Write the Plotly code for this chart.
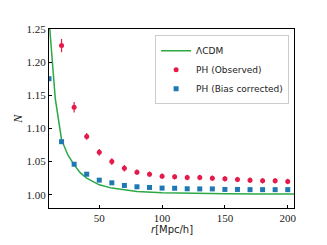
import plotly.graph_objects as go

r_obs = [20, 30, 40, 50, 60, 70, 80, 90, 100, 110, 120, 130, 140, 150, 160, 170, 180, 190, 200]
n_obs = [1.225, 1.132, 1.088, 1.064, 1.050, 1.040, 1.034, 1.031, 1.028, 1.027, 1.026, 1.026, 1.025,
         1.024, 1.023, 1.022, 1.021, 1.021, 1.020]
e_obs = [0.010, 0.008, 0.005, 0.005, 0.005, 0.005, 0.004, 0.004, 0.004, 0.004, 0.004, 0.004, 0.004,
         0.004, 0.004, 0.004, 0.004, 0.004, 0.004]

r_bc = [10, 20, 30, 40, 50, 60, 70, 80, 90, 100, 110, 120, 130, 140, 150, 160, 170, 180, 190, 200]
n_bc = [1.175, 1.080, 1.046, 1.031, 1.022, 1.018, 1.014, 1.012, 1.011, 1.010, 1.0098, 1.009, 1.0088,
        1.0088, 1.008, 1.008, 1.0077, 1.0077, 1.0077, 1.0077]
e_bc = [0.002] * len(r_bc)

r_lcdm = [10, 15, 20, 25, 30, 35, 40, 50, 60, 70, 80, 100, 125, 150, 175, 205]
n_lcdm = [1.265, 1.145, 1.083, 1.060, 1.045, 1.033, 1.025, 1.015, 1.010, 1.007, 1.005, 1.003, 1.002,
          1.0015, 1.0012, 1.001]

fig = go.Figure()
fig.add_trace(go.Scatter(x=r_lcdm, y=n_lcdm, mode="lines", name="ΛCDM",
                         line=dict(color="#2ca845", width=1.5)))
fig.add_trace(go.Scatter(x=r_obs, y=n_obs, mode="markers", name="PH (Observed)",
                         marker=dict(symbol="circle", size=5, color="#e31a4a"),
                         error_y=dict(type="data", array=e_obs, color="#e31a4a", thickness=1.2, width=0)))
fig.add_trace(go.Scatter(x=r_bc, y=n_bc, mode="markers", name="PH (Bias corrected)",
                         marker=dict(symbol="square", size=5, color="#1f77b4"),
                         error_y=dict(type="data", array=e_bc, color="#1f77b4", thickness=1.2, width=0)))

axis_common = dict(showline=True, linecolor="black", linewidth=1, mirror=True, automargin=False,
                   ticks="inside", ticklen=3, tickcolor="black", showgrid=False, zeroline=False,
                   tickfont=dict(family="Liberation Serif", size=11, color="#222"))

fig.update_layout(
    width=327, height=245,
    margin=dict(l=49, r=33, t=29, b=37),
    plot_bgcolor="white", paper_bgcolor="white",
    showlegend=True,
    legend=dict(x=0.98, y=0.965, xanchor="right", yanchor="top",
                bgcolor="white", bordercolor="#cccccc", borderwidth=1,
                font=dict(family="DejaVu Sans", size=9, color="#222"),
                tracegroupgap=0, itemwidth=30),
    xaxis=dict(range=[10, 205], tickvals=[50, 100, 150, 200], **axis_common),
    yaxis=dict(range=[0.98, 1.25], tickvals=[1.00, 1.05, 1.10, 1.15, 1.20, 1.25],
               tickformat=".2f", **axis_common),
    annotations=[
        dict(text="<i>r</i>[Mpc/h]", xref="paper", yref="paper", x=0.5, y=-0.12,
             xanchor="center", yanchor="middle", showarrow=False,
             font=dict(family="DejaVu Sans", size=10, color="#222")),
        dict(text="<i>N</i>", xref="paper", yref="paper", x=-0.13, y=0.5,
             xanchor="center", yanchor="middle", showarrow=False, textangle=-90,
             font=dict(family="Liberation Serif", size=12, color="#222")),
    ],
)

fig.write_html("out.html", config={"displayModeBar": False},
               post_script="document.body.style.margin='0';")
